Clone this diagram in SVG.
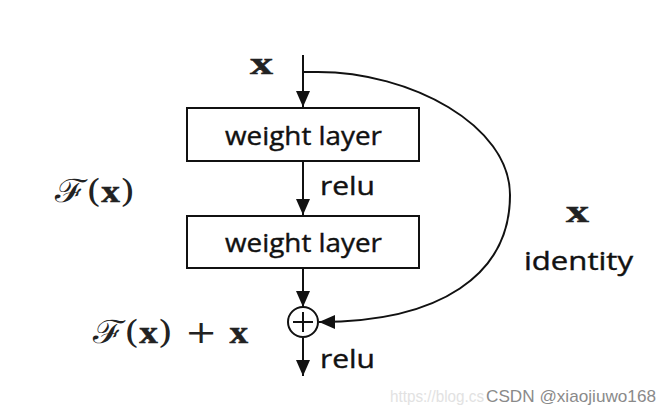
<svg xmlns="http://www.w3.org/2000/svg" width="670" height="416" viewBox="0 0 670 416">
<style>
.box{fill:#fff;stroke:#111;stroke-width:2}
.ln{fill:none;stroke:#111;stroke-width:2}
.lbl{font-family:"Open Sans","Liberation Sans",sans-serif;font-size:25px;fill:#111;stroke:#111;stroke-width:0.4}
.mx{font-family:"Liberation Serif","DejaVu Serif",serif;font-weight:bold;font-size:31px;fill:#222;stroke:#222;stroke-width:0.5}
.mf{font-family:"DejaVu Serif","Liberation Serif",serif;font-size:32px;fill:#222}
.wm{font-family:"Liberation Sans",Arial,sans-serif;font-size:17px}
</style>
<defs>
<marker id="ah" markerUnits="userSpaceOnUse" markerWidth="16" markerHeight="16" viewBox="0 0 16 16" refX="16" refY="8" orient="auto">
<path d="M0,1 L16,8 L0,15 Z" fill="#111"/>
</marker>
</defs>
<rect width="670" height="416" fill="#fff"/>
<g id="connectors">
<path class="ln" d="M303,55 V107" marker-end="url(#ah)"/>
<path class="ln" d="M303,161 V215" marker-end="url(#ah)"/>
<path class="ln" d="M303,268 V307" marker-end="url(#ah)"/>
<path class="ln" d="M303,338 V376" marker-end="url(#ah)"/>
<path class="ln" d="M303,72 H318 C410,72 510,125 510,195 C510,275 440,322 319,322" marker-end="url(#ah)"/>
</g>
<g id="input-x"><text class="mx" x="250" y="74" textLength="23" lengthAdjust="spacingAndGlyphs">x</text></g>
<g id="weight-layer-1">
<rect class="box" x="187" y="108" width="232" height="53"/>
<text class="lbl" x="225" y="145" textLength="157" lengthAdjust="spacingAndGlyphs">weight layer</text>
</g>
<g id="relu-1"><text class="lbl" x="320" y="195" textLength="55" lengthAdjust="spacingAndGlyphs">relu</text></g>
<g id="weight-layer-2">
<rect class="box" x="187" y="216" width="232" height="52"/>
<text class="lbl" x="225" y="252" textLength="157" lengthAdjust="spacingAndGlyphs">weight layer</text>
</g>
<g id="add">
<circle class="ln" cx="303" cy="322" r="15"/>
<path class="ln" d="M303,312 V332 M293,322 H313"/>
</g>
<g id="relu-2"><text class="lbl" x="320" y="368" textLength="55" lengthAdjust="spacingAndGlyphs">relu</text></g>
<g id="label-Fx"><text class="mf" x="55" y="202" textLength="80" lengthAdjust="spacingAndGlyphs">ℱ(<tspan class="mx">x</tspan>)</text></g>
<g id="label-Fx-plus-x"><text class="mf" x="93" y="343" textLength="155" lengthAdjust="spacingAndGlyphs">ℱ(<tspan class="mx">x</tspan>) + <tspan class="mx">x</tspan></text></g>
<g id="identity-label">
<text class="mx" x="566" y="222" textLength="23" lengthAdjust="spacingAndGlyphs">x</text>
<text class="lbl" x="524" y="270" textLength="109" lengthAdjust="spacingAndGlyphs">identity</text>
</g>
<g id="watermark">
<text class="wm" x="390" y="402" fill="#e2e2e2" textLength="94" lengthAdjust="spacingAndGlyphs">https://blog.cs</text>
<text class="wm" x="486" y="402" fill="#8a8a8a" textLength="170" lengthAdjust="spacingAndGlyphs">CSDN @xiaojiuwo168</text>
</g>
</svg>
